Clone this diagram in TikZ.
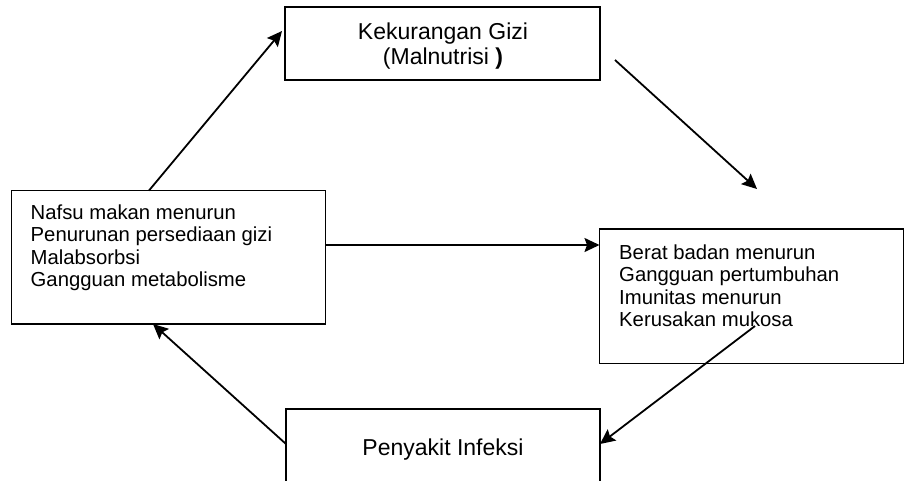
\documentclass[tikz,border=0pt]{standalone}
\usepackage{fontspec}
\setmainfont{Liberation Sans}
\usetikzlibrary{arrows.meta}
\begin{document}
\begin{tikzpicture}[x=1pt,y=-1pt,
  box/.style={draw, line width=1.8pt, inner sep=0pt, outer sep=0pt, anchor=north west},
  big/.style={font=\fontsize{23pt}{26pt}\selectfont, inner sep=0pt},
  small/.style={font=\fontsize{20.3pt}{23pt}\selectfont, inner sep=0pt, anchor=base west},
  arr/.style={-{Stealth[length=15pt,width=14pt,inset=2.5pt]}, line width=1.8pt}]
\useasboundingbox (0,0) rectangle (905,480);
\clip (0,0) rectangle (905,480);

% boxes
\node[box, minimum width=315pt, minimum height=73pt] (T) at (285,7) {};
\node[box, minimum width=314pt, minimum height=133.5pt] (L) at (11.5,190.5) {};
\node[box, minimum width=304pt, minimum height=134.5pt] (R) at (599.5,229) {};
\node[box, minimum width=314pt, minimum height=110pt] (B) at (286,409) {};

% texts
\node[big, anchor=base] (t1) at (443,39) {Kekurangan Gizi};
\node[big, anchor=base] (t2) at (443,64) {(Malnutrisi \textbf{)}};

\node[small] (l1) at (30.5,219) {Nafsu makan menurun};
\node[small] (l2) at (30.5,241.5) {Penurunan persediaan gizi};
\node[small] (l3) at (30.5,264) {Malabsorbsi};
\node[small] (l4) at (30.5,286.5) {Gangguan metabolisme};

\node[small] (r1) at (619,259) {Berat badan menurun};
\node[small] (r2) at (619,281.5) {Gangguan pertumbuhan};
\node[small] (r3) at (619,304) {Imunitas menurun};
\node[small] (r4) at (619,326.5) {Kerusakan mukosa};

\node[big, anchor=base] (b1) at (443,455) {Penyakit Infeksi};

% connector end points
\coordinate (p1) at (149,0);
\coordinate (p1tip) at (282,31);
\coordinate (p2) at (615,60);
\coordinate (p2tip) at (757,189);
\coordinate (h) at (0,245);
\coordinate (p4) at (755,326);
\coordinate (q) at (0,444);
\coordinate (r) at (153,0);

% connectors
\draw[arr] (L.north -| p1) -- (p1tip);
\draw[arr] (p2) -- (p2tip);
\draw[arr] (L.east |- h) -- (R.west |- h);
\draw[arr] (p4) -- (B.east |- q);
\draw[arr] (B.west |- q) -- (L.south -| r);
\end{tikzpicture}
\end{document}
